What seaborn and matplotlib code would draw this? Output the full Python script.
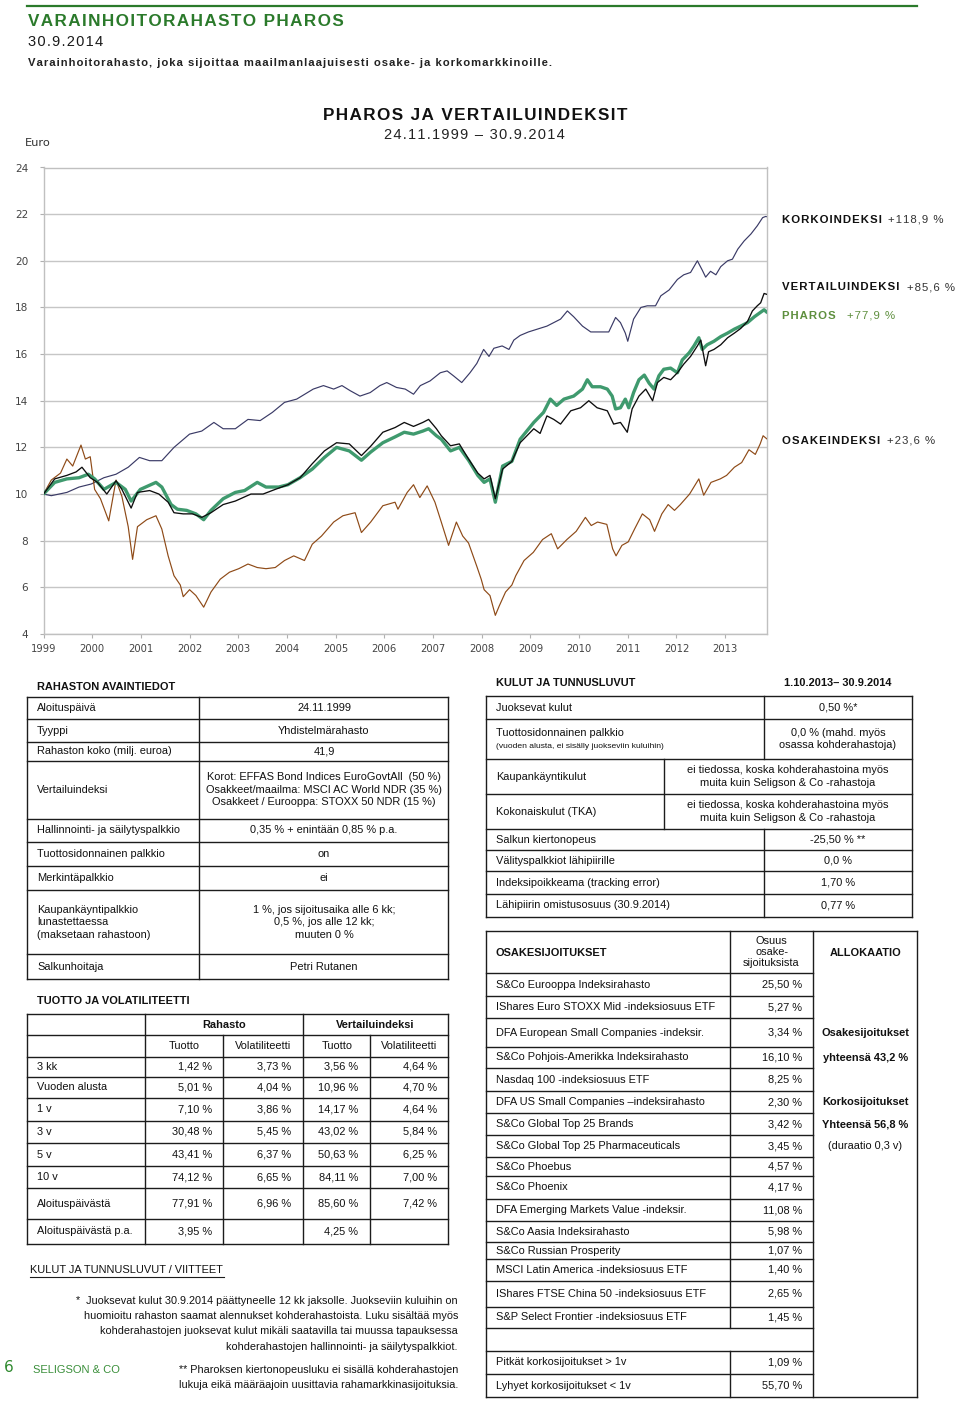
import numpy as np
import pandas as pd
import matplotlib
matplotlib.use("Agg")
import matplotlib.pyplot as plt
import seaborn as sns

# ======================= DATA =======================
# x = years since fund start (24.11.1999); tick labels as printed on the chart
x_tick_pos = list(range(15))
x_tick_labels = ["1999", "2000", "2001", "2002", "2003", "2004", "2005", "2006",
                 "2007", "2008", "2009", "2010", "2011", "2012", "2013"]
y_ticks = [4, 6, 8, 10, 12, 14, 16, 18, 20, 22, 24]

korko_t = [0.00, 0.16, 0.48, 0.73, 0.98, 1.24, 1.49, 1.74, 1.97, 2.18,
           2.43, 2.68, 3.00, 3.25, 3.50, 3.69, 3.94, 4.20, 4.45, 4.70,
           4.95, 5.20, 5.54, 5.75, 5.96, 6.13, 6.30, 6.50, 6.71, 6.91,
           7.05, 7.25, 7.43, 7.60, 7.74, 7.94, 8.15, 8.29, 8.42, 8.59,
           8.76, 8.90, 9.04, 9.15, 9.25, 9.42, 9.56, 9.66, 9.79, 9.96,
           10.34, 10.48, 10.62, 10.76, 10.89, 11.07, 11.24, 11.44, 11.61, 11.75,
           11.85, 11.95, 12.00, 12.12, 12.27, 12.40, 12.57, 12.68, 12.85, 13.02,
           13.15, 13.29, 13.43, 13.53, 13.60, 13.70, 13.81, 13.91, 14.05, 14.15,
           14.26, 14.39, 14.53, 14.66, 14.77, 14.83, 14.86]
korko_v = [10.0, 9.93, 10.07, 10.3, 10.43, 10.7, 10.85, 11.15, 11.57, 11.43,
           11.43, 12.0, 12.57, 12.7, 13.07, 12.8, 12.8, 13.2, 13.15, 13.5,
           13.93, 14.07, 14.5, 14.65, 14.5, 14.65, 14.43, 14.2, 14.35, 14.65,
           14.78, 14.57, 14.5, 14.28, 14.65, 14.85, 15.2, 15.28, 15.07, 14.78,
           15.2, 15.6, 16.2, 15.9, 16.25, 16.35, 16.2, 16.6, 16.8, 16.95,
           17.2, 17.35, 17.5, 17.85, 17.6, 17.2, 16.95, 16.95, 16.95, 17.57,
           17.35, 16.9, 16.55, 17.5, 18.0, 18.07, 18.07, 18.5, 18.75, 19.2,
           19.4, 19.5, 20.0, 19.6, 19.3, 19.55, 19.4, 19.75, 20.0, 20.07,
           20.5, 20.85, 21.15, 21.5, 21.85, 21.9, 21.89]

vertailu_t = [0.00, 0.23, 0.48, 0.67, 0.79, 0.96, 1.11, 1.30, 1.49, 1.61,
              1.80, 1.93, 2.18, 2.37, 2.56, 2.68, 2.87, 3.06, 3.25, 3.44,
              3.69, 3.94, 4.26, 4.51, 4.76, 5.02, 5.27, 5.52, 5.77, 6.02,
              6.28, 6.53, 6.72, 6.97, 7.22, 7.41, 7.60, 7.79, 7.91, 8.07,
              8.17, 8.36, 8.54, 8.73, 8.92, 9.05, 9.17, 9.28, 9.43, 9.62,
              9.79, 10.07, 10.20, 10.34, 10.48, 10.62, 10.83, 11.03, 11.20, 11.37,
              11.58, 11.71, 11.85, 11.99, 12.09, 12.23, 12.37, 12.51, 12.61, 12.74,
              12.88, 13.02, 13.15, 13.29, 13.43, 13.50, 13.60, 13.66, 13.77, 13.91,
              14.05, 14.19, 14.32, 14.46, 14.56, 14.66, 14.73, 14.80, 14.86]
vertailu_v = [10.0, 10.65, 10.8, 10.95, 11.15, 10.7, 10.5, 10.0, 10.57, 10.2,
              9.4, 10.07, 10.15, 10.0, 9.65, 9.2, 9.15, 9.15, 9.0, 9.2,
              9.55, 9.7, 10.0, 10.0, 10.2, 10.4, 10.7, 11.3, 11.85, 12.2,
              12.15, 11.65, 12.05, 12.65, 12.85, 13.07, 12.9, 13.07, 13.2, 12.8,
              12.5, 12.07, 12.15, 11.5, 10.9, 10.65, 10.8, 9.8, 11.07, 11.4,
              12.2, 12.8, 12.6, 13.35, 13.2, 13.0, 13.57, 13.7, 14.0, 13.7,
              13.57, 13.0, 13.07, 12.65, 13.65, 14.2, 14.5, 14.0, 14.78, 15.0,
              14.9, 15.2, 15.57, 15.9, 16.35, 16.6, 15.5, 16.1, 16.2, 16.4,
              16.7, 16.9, 17.1, 17.4, 17.85, 18.07, 18.2, 18.6, 18.56]

pharos_t = [0.00, 0.23, 0.48, 0.73, 0.92, 1.05, 1.24, 1.49, 1.68, 1.80,
            1.99, 2.31, 2.43, 2.62, 2.75, 2.94, 3.13, 3.29, 3.44, 3.69,
            3.94, 4.13, 4.39, 4.57, 4.83, 5.02, 5.27, 5.52, 5.77, 6.02,
            6.28, 6.53, 6.72, 6.97, 7.22, 7.41, 7.60, 7.79, 7.91, 8.07,
            8.17, 8.36, 8.54, 8.73, 8.92, 9.05, 9.17, 9.28, 9.43, 9.62,
            9.79, 10.07, 10.27, 10.41, 10.54, 10.69, 10.89, 11.07, 11.17, 11.27,
            11.44, 11.58, 11.68, 11.75, 11.85, 11.95, 12.02, 12.12, 12.23, 12.34,
            12.44, 12.54, 12.64, 12.74, 12.88, 13.02, 13.12, 13.26, 13.36, 13.46,
            13.53, 13.63, 13.77, 13.91, 14.05, 14.19, 14.32, 14.46, 14.60, 14.70,
            14.80, 14.86]
pharos_v = [10.0, 10.5, 10.65, 10.7, 10.85, 10.65, 10.2, 10.5, 10.2, 9.7,
            10.2, 10.5, 10.3, 9.55, 9.35, 9.3, 9.15, 8.9, 9.3, 9.8,
            10.07, 10.15, 10.5, 10.3, 10.3, 10.4, 10.7, 11.07, 11.57, 12.0,
            11.85, 11.45, 11.8, 12.2, 12.45, 12.65, 12.57, 12.7, 12.8, 12.5,
            12.35, 11.85, 12.0, 11.45, 10.8, 10.5, 10.65, 9.65, 11.2, 11.4,
            12.35, 13.07, 13.5, 14.07, 13.8, 14.07, 14.2, 14.5, 14.9, 14.6,
            14.6, 14.5, 14.2, 13.65, 13.7, 14.07, 13.7, 14.35, 14.9, 15.1,
            14.75, 14.5, 15.07, 15.35, 15.4, 15.2, 15.75, 16.05, 16.35, 16.7,
            16.2, 16.4, 16.55, 16.75, 16.9, 17.07, 17.2, 17.35, 17.6, 17.75,
            17.9, 17.79]

osake_t = [0.00, 0.16, 0.35, 0.48, 0.60, 0.77, 0.86, 0.96, 1.05, 1.17,
           1.34, 1.49, 1.61, 1.74, 1.83, 1.93, 2.12, 2.31, 2.43, 2.56,
           2.68, 2.81, 2.87, 3.00, 3.13, 3.29, 3.44, 3.63, 3.82, 4.01,
           4.20, 4.39, 4.57, 4.76, 4.95, 5.14, 5.36, 5.52, 5.71, 5.96,
           6.15, 6.40, 6.53, 6.72, 6.97, 7.22, 7.28, 7.47, 7.60, 7.73,
           7.88, 8.04, 8.17, 8.32, 8.48, 8.61, 8.73, 8.90, 8.99, 9.05,
           9.17, 9.28, 9.36, 9.49, 9.62, 9.70, 9.87, 10.06, 10.25, 10.43,
           10.56, 10.75, 10.94, 11.13, 11.25, 11.38, 11.57, 11.69, 11.76, 11.88,
           12.01, 12.14, 12.30, 12.45, 12.55, 12.70, 12.83, 12.96, 13.08, 13.27,
           13.46, 13.56, 13.71, 13.90, 14.03, 14.19, 14.34, 14.49, 14.62, 14.72,
           14.78, 14.86]
osake_v = [10.0, 10.6, 10.9, 11.5, 11.2, 12.1, 11.5, 11.6, 10.2, 9.8,
           8.85, 10.6, 9.9, 8.6, 7.2, 8.6, 8.9, 9.07, 8.5, 7.35,
           6.5, 6.1, 5.6, 5.9, 5.65, 5.15, 5.8, 6.35, 6.65, 6.8,
           7.0, 6.85, 6.8, 6.85, 7.15, 7.35, 7.15, 7.85, 8.2, 8.8,
           9.07, 9.2, 8.35, 8.8, 9.5, 9.65, 9.35, 10.07, 10.4, 9.85,
           10.35, 9.65, 8.8, 7.8, 8.8, 8.2, 7.9, 6.9, 6.35, 5.9,
           5.65, 4.8, 5.2, 5.8, 6.1, 6.5, 7.15, 7.5, 8.05, 8.3,
           7.65, 8.05, 8.4, 9.0, 8.65, 8.8, 8.7, 7.65, 7.35, 7.8,
           7.95, 8.5, 9.15, 8.9, 8.4, 9.15, 9.55, 9.3, 9.55, 10.0,
           10.65, 9.95, 10.5, 10.65, 10.8, 11.15, 11.35, 11.9, 11.7, 12.15,
           12.5, 12.36]

series_names = ["KORKOINDEKSI", "VERTAILUINDEKSI", "PHAROS", "OSAKEINDEKSI"]
series_changes = ["+118,9 %", "+85,6 %", "+77,9 %", "+23,6 %"]

avain_labels = ["Aloituspäivä", "Tyyppi", "Rahaston koko (milj. euroa)", "Vertailuindeksi",
                "Hallinnointi- ja säilytyspalkkio", "Tuottosidonnainen palkkio",
                "Merkintäpalkkio", "Kaupankäyntipalkkio\nlunastettaessa\n(maksetaan rahastoon)",
                "Salkunhoitaja"]
avain_values = ["24.11.1999", "Yhdistelmärahasto", "41,9",
                "Korot: EFFAS Bond Indices EuroGovtAll  (50 %)\nOsakkeet/maailma: MSCI AC World NDR (35 %)\nOsakkeet / Eurooppa: STOXX 50 NDR (15 %)",
                "0,35 % + enintään 0,85 % p.a.", "on", "ei",
                "1 %, jos sijoitusaika alle 6 kk;\n0,5 %, jos alle 12 kk;\nmuuten 0 %",
                "Petri Rutanen"]

tuotto_periods = ["3 kk", "Vuoden alusta", "1 v", "3 v", "5 v", "10 v",
                  "Aloituspäivästä", "Aloituspäivästä p.a."]
rahasto_tuotto = ["1,42 %", "5,01 %", "7,10 %", "30,48 %", "43,41 %", "74,12 %", "77,91 %", "3,95 %"]
rahasto_vol = ["3,73 %", "4,04 %", "3,86 %", "5,45 %", "6,37 %", "6,65 %", "6,96 %", ""]
vertailu_tuotto = ["3,56 %", "10,96 %", "14,17 %", "43,02 %", "50,63 %", "84,11 %", "85,60 %", "4,25 %"]
vertailu_vol = ["4,64 %", "4,70 %", "4,64 %", "5,84 %", "6,25 %", "7,00 %", "7,42 %", ""]

kulut_labels = ["Juoksevat kulut", "Tuottosidonnainen palkkio", "Kaupankäyntikulut",
                "Kokonaiskulut (TKA)", "Salkun kiertonopeus", "Välityspalkkiot lähipiirille",
                "Indeksipoikkeama (tracking error)", "Lähipiirin omistusosuus (30.9.2014)"]
kulut_values = ["0,50 %*", "0,0 % (mahd. myös\nosassa kohderahastoja)",
                "ei tiedossa, koska kohderahastoina myös\nmuita kuin Seligson & Co -rahastoja",
                "ei tiedossa, koska kohderahastoina myös\nmuita kuin Seligson & Co -rahastoja",
                "-25,50 % **", "0,0 %", "1,70 %", "0,77 %"]

osake_names = ["S&Co Eurooppa Indeksirahasto", "IShares Euro STOXX Mid -indeksiosuus ETF",
               "DFA European Small Companies -indeksir.", "S&Co Pohjois-Amerikka Indeksirahasto",
               "Nasdaq 100 -indeksiosuus ETF", "DFA US Small Companies –indeksirahasto",
               "S&Co Global Top 25 Brands", "S&Co Global Top 25 Pharmaceuticals",
               "S&Co Phoebus", "S&Co Phoenix", "DFA Emerging Markets Value -indeksir.",
               "S&Co Aasia Indeksirahasto", "S&Co Russian Prosperity",
               "MSCI Latin America -indeksiosuus ETF", "IShares FTSE China 50 -indeksiosuus ETF",
               "S&P Select Frontier -indeksiosuus ETF"]
osake_share = ["25,50 %", "5,27 %", "3,34 %", "16,10 %", "8,25 %", "2,30 %", "3,42 %", "3,45 %",
               "4,57 %", "4,17 %", "11,08 %", "5,98 %", "1,07 %", "1,40 %", "2,65 %", "1,45 %"]
korko_names = ["Pitkät korkosijoitukset > 1v", "Lyhyet korkosijoitukset < 1v"]
korko_share = ["1,09 %", "55,70 %"]

allokaatio_lines = ["Osakesijoitukset", "yhteensä 43,2 %", "Korkosijoitukset",
                    "Yhteensä 56,8 %", "(duraatio 0,3 v)"]

footnote1 = ["*  Juoksevat kulut 30.9.2014 päättyneelle 12 kk jaksolle. Juokseviin kuluihin on",
             "huomioitu rahaston saamat alennukset kohderahastoista. Luku sisältää myös",
             "kohderahastojen juoksevat kulut mikäli saatavilla tai muussa tapauksessa",
             "kohderahastojen hallinnointi- ja säilytyspalkkiot."]
footnote2 = ["** Pharoksen kiertonopeusluku ei sisällä kohderahastojen",
             "lukuja eikä määräajoin uusittavia rahamarkkinasijoituksia."]

# ======================= STYLE =======================
sns.set_style("white")
plt.rcParams['font.family'] = ['Liberation Sans', 'DejaVu Sans']

GREEN_T = "#2b7a2b"
C_KORKO = "#3a3a66"
C_VERT = "#0d0d0d"
C_PHAROS = "#3f9a6e"
C_OSAKE = "#8e4a17"
C_LBL_PHAROS = "#5e8f3e"
LINE = "#1c1c1c"
HS = "\u200a"


def spaced(s):
    return HS.join(s)


W, H = 960, 1401
fig = plt.figure(figsize=(W / 100, H / 100), dpi=100)
fig.patch.set_facecolor("white")

bg = fig.add_axes([0, 0, 1, 1])
bg.set_xlim(0, W)
bg.set_ylim(H, 0)
bg.axis("off")


def T(x, y, s, size=8, weight="normal", ha="left", va="center", color="#111111", **kw):
    bg.text(x, y, s, fontsize=size, fontweight=weight, ha=ha, va=va, color=color, **kw)


def HL(y, x0, x1, lw=1.0, color=LINE):
    bg.plot([x0, x1], [y, y], color=color, lw=lw, solid_capstyle="projecting")


def VL(x, y0, y1, lw=1.0, color=LINE):
    bg.plot([x, x], [y0, y1], color=color, lw=lw, solid_capstyle="projecting")


# ---------------- header ----------------
HL(5.5, 27, 917, lw=1.6, color=GREEN_T)
T(28, 22, spaced("VARAINHOITORAHASTO PHAROS"), size=12.3, weight="bold", color=GREEN_T)
T(28, 42, spaced("30.9.2014"), size=10.5, color="#1a1a1a")
T(28, 63, spaced("Varainhoitorahasto, joka sijoittaa maailmanlaajuisesti osake- ja korkomarkkinoille."),
  size=8.1, weight="bold", color="#222222")
T(475, 116, spaced("PHAROS JA VERTAILUINDEKSIT"), size=12.3, weight="bold", ha="center")
T(474, 135, spaced("24.11.1999 – 30.9.2014"), size=10.5, ha="center", color="#222222")
T(25, 143, "Euro", size=8.2, color="#333333", family="DejaVu Sans")

# ---------------- chart ----------------
left, right, top, bottom = 43.5, 767, 167.5, 634
ax = fig.add_axes([left / W, 1 - bottom / H, (right - left) / W, (bottom - top) / H])

frames = []
for name, tt, vv in [("KORKOINDEKSI", korko_t, korko_v), ("VERTAILUINDEKSI", vertailu_t, vertailu_v),
                     ("PHAROS", pharos_t, pharos_v), ("OSAKEINDEKSI", osake_t, osake_v)]:
    assert len(tt) == len(vv), name
    frames.append(pd.DataFrame({"t": tt, "arvo": vv, "sarja": name}))
df = pd.concat(frames, ignore_index=True)

styles = {"KORKOINDEKSI": (C_KORKO, 0.85, 2),
          "OSAKEINDEKSI": (C_OSAKE, 0.85, 3),
          "PHAROS": (C_PHAROS, 2.4, 4),
          "VERTAILUINDEKSI": (C_VERT, 0.95, 5)}
for name in ["KORKOINDEKSI", "OSAKEINDEKSI", "PHAROS", "VERTAILUINDEKSI"]:
    col, lw, z = styles[name]
    sns.lineplot(data=df[df["sarja"] == name], x="t", y="arvo", ax=ax, color=col,
                 linewidth=lw, estimator=None, sort=False, legend=False, zorder=z)

ax.set_xlim(0, 14.86)
ax.set_ylim(4, 24)
ax.set_xticks(x_tick_pos)
ax.set_xticklabels(x_tick_labels)
ax.set_yticks(y_ticks)
ax.set_yticklabels([str(v) for v in y_ticks])
ax.set_xlabel("")
ax.set_ylabel("")
ax.grid(axis="y", color="#c6c6c6", lw=1.0)
ax.grid(axis="x", visible=False)
ax.set_axisbelow(True)
for sp in ax.spines.values():
    sp.set_color("#c0c0c0")
    sp.set_linewidth(1.0)
ax.tick_params(axis="x", direction="out", length=3, width=0.8, color="#b0b0b0",
               labelsize=7.2, labelcolor="#444444", pad=4, bottom=True)
ax.tick_params(axis="y", direction="out", length=3, width=0.8, color="#b0b0b0",
               labelsize=7.6, labelcolor="#444444", pad=8, left=True)
for lab in ax.get_xticklabels() + ax.get_yticklabels():
    lab.set_family("DejaVu Sans")

# series labels on the right
label_y = [220, 287, 315.7, 440.7]
value_x = [888, 907, 847, 887]
for nm, ch, yy, vx in zip(series_names, series_changes, label_y, value_x):
    c = C_LBL_PHAROS if nm == "PHAROS" else "#111111"
    T(782, yy, spaced(nm), size=8.2, weight="bold", color=c)
    T(vx, yy, spaced(ch), size=8.2, color=c if nm == "PHAROS" else "#333333")

# ---------------- RAHASTON AVAINTIEDOT ----------------
T(37, 687, "RAHASTON AVAINTIEDOT", size=7.9, weight="bold")
b1 = [696.7, 719.3, 741.7, 760.7, 819, 841.7, 866, 890, 954.3, 979.3]
for y in b1:
    HL(y, 27.3, 448.3)
for x in [27.3, 199.3, 448.3]:
    VL(x, b1[0], b1[-1])
for i, (lab, val) in enumerate(zip(avain_labels, avain_values)):
    yc = (b1[i] + b1[i + 1]) / 2
    T(37, yc, lab, size=7.9, linespacing=1.3)
    T(324, yc, val, size=7.9, ha="center", linespacing=1.3, multialignment="center")

# ---------------- TUOTTO JA VOLATILITEETTI ----------------
T(37, 1001, "TUOTTO JA VOLATILITEETTI", size=7.9, weight="bold")
b2 = [1014, 1035, 1056.7, 1076.7, 1098.3, 1120.7, 1143.3, 1165.7, 1188.3, 1219, 1244]
for y in b2:
    HL(y, 27.3, 448.3)
for x in [27.3, 145, 302.7, 448.3]:
    VL(x, b2[0], b2[-1])
for x in [223.3, 370]:
    VL(x, b2[1], b2[-1])
T(224, (b2[0] + b2[1]) / 2, "Rahasto", size=7.9, weight="bold", ha="center")
T(375, (b2[0] + b2[1]) / 2, "Vertailuindeksi", size=7.9, weight="bold", ha="center")
for x, s in zip([184, 263, 337, 409], ["Tuotto", "Volatiliteetti", "Tuotto", "Volatiliteetti"]):
    T(x, (b2[1] + b2[2]) / 2, s, size=7.9, ha="center")
for i in range(len(tuotto_periods)):
    yc = (b2[i + 2] + b2[i + 3]) / 2
    T(37, yc, tuotto_periods[i], size=7.9)
    T(212, yc, rahasto_tuotto[i], size=7.9, ha="right")
    T(291.5, yc, rahasto_vol[i], size=7.9, ha="right")
    T(358.5, yc, vertailu_tuotto[i], size=7.9, ha="right")
    T(437, yc, vertailu_vol[i], size=7.9, ha="right")

# ---------------- footnotes ----------------
T(30, 1270, "KULUT JA TUNNUSLUVUT / VIITTEET", size=7.9)
HL(1276.5, 30, 224, lw=0.8)
for s, y in zip(footnote1, [1301, 1316, 1331.3, 1346.7]):
    T(458, y, s, size=7.85, ha="right")
for s, y in zip(footnote2, [1369.7, 1385]):
    T(458, y, s, size=7.85, ha="right")
T(4, 1368, "6", size=11, color="#2f8a2f", family="DejaVu Sans")
T(33, 1370, "SELIGSON & CO", size=8, color="#3a8f3a")

# ---------------- KULUT JA TUNNUSLUVUT ----------------
T(496, 683, "KULUT JA TUNNUSLUVUT", size=7.9, weight="bold")
T(891, 683, "1.10.2013– 30.9.2014", size=7.9, weight="bold", ha="right")
b3 = [696, 719.3, 759.3, 794, 829.3, 850, 871, 894, 916.7]
for y in b3:
    HL(y, 486, 911.7)
VL(486, b3[0], b3[-1])
VL(911.7, b3[0], b3[-1])
VL(764, b3[0], b3[2])
VL(764, b3[4], b3[-1])
VL(664.3, b3[2], b3[4])
for i, (lab, val) in enumerate(zip(kulut_labels, kulut_values)):
    yc = (b3[i] + b3[i + 1]) / 2
    if i == 1:
        T(496, 732.7, lab, size=7.9)
        T(496, 746.7, "(vuoden alusta, ei sisälly juokseviin kuluihin)", size=6.1)
        T(838, yc, val, size=7.9, ha="center", linespacing=1.3, multialignment="center")
    elif i in (2, 3):
        T(496, yc, lab, size=7.9)
        T(788, yc, val, size=7.9, ha="center", linespacing=1.3, multialignment="center")
    else:
        T(496, yc, lab, size=7.9)
        T(838, yc, val, size=7.9, ha="center")

# ---------------- OSAKESIJOITUKSET ----------------
b4 = [930.7, 973.3, 996, 1018.3, 1046.7, 1068.3, 1091, 1113.3, 1135, 1157.3, 1175.7,
      1199.3, 1221, 1242.3, 1259, 1280.7, 1306.7, 1328.3, 1350.7, 1374, 1397.3]
HL(b4[0], 486, 917.3)
HL(b4[-1], 486, 917.3)
for y in b4[1:-1]:
    HL(y, 486, 813.3)
VL(486, b4[0], b4[-1])
VL(813.3, b4[0], b4[-1])
VL(917.3, b4[0], b4[-1])
VL(730, b4[0], b4[17])
VL(730, b4[18], b4[-1])
T(496, 952.7, "OSAKESIJOITUKSET", size=7.9, weight="bold")
T(771.5, 952, "Osuus\nosake-\nsijoituksista", size=7.9, ha="center", linespacing=1.18,
  multialignment="center")
T(865.5, 953, "ALLOKAATIO", size=7.9, weight="bold", ha="center")
for i, (nm, sh) in enumerate(zip(osake_names, osake_share)):
    yc = (b4[i + 1] + b4[i + 2]) / 2
    T(496, yc, nm, size=7.9)
    T(802.5, yc, sh, size=7.9, ha="right")
for j, (nm, sh) in enumerate(zip(korko_names, korko_share)):
    yc = (b4[18 + j] + b4[19 + j]) / 2
    T(496, yc, nm, size=7.9)
    T(802.5, yc, sh, size=7.9, ha="right")
for s, y, wgt in zip(allokaatio_lines, [1032.7, 1058, 1102.3, 1124.7, 1146.3],
                     ["bold", "bold", "bold", "bold", "normal"]):
    T(865.5, y, s, size=7.9, weight=wgt, ha="center")

fig.savefig("out.png", dpi=100, facecolor="white")
